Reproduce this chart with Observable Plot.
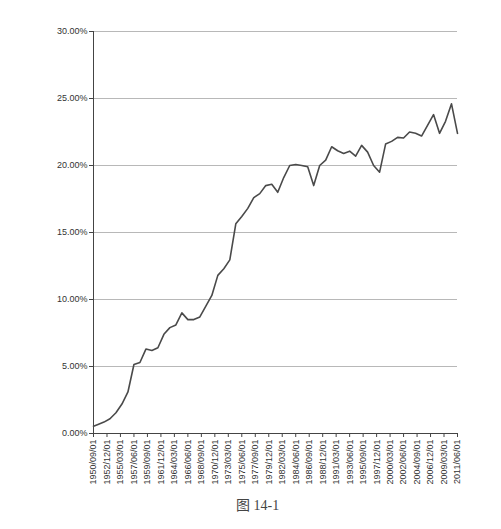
<!DOCTYPE html>
<html>
<head>
<meta charset="utf-8">
<script src="https://cdn.jsdelivr.net/npm/d3@7"></script>
<script src="https://cdn.jsdelivr.net/npm/@observablehq/plot@0.6"></script>
<style>
  body { margin: 0; background: #fff; }
  #chart { position: absolute; left: 0; top: 0; }
  #cap { position: absolute; left: 236px; top: 494px; font-family: "Liberation Serif", "Noto Sans CJK SC", serif; font-size: 14px; color: #444; white-space: nowrap; }
</style>
</head>
<body>
<div id="chart"></div>
<div id="cap">图 14-1</div>
<script>
// Observation dates (approx. yearly)
const dates = [
  "1950-09","1951-06","1952-06","1953-06","1954-06","1955-06","1956-06","1957-06","1958-06","1959-06",
  "1960-06","1961-06","1962-06","1963-06","1964-06","1965-06","1966-06","1967-06","1968-06","1969-06",
  "1970-06","1971-06","1972-06","1973-06","1974-06","1975-06","1976-06","1977-06","1978-06","1979-06",
  "1980-06","1981-06","1982-06","1983-06","1984-06","1985-06","1986-06","1987-06","1988-06","1989-06",
  "1990-06","1991-06","1992-06","1993-06","1994-06","1995-06","1996-06","1997-06","1998-06","1999-06",
  "2000-06","2001-06","2002-06","2003-06","2004-06","2005-06","2006-06","2007-06","2008-06","2009-06",
  "2010-06","2011-06"
];
// Share (%)
const values = [
  0.55, 0.68, 0.85, 1.1, 1.55, 2.2, 3.1, 5.15, 5.3, 6.3,
  6.2, 6.4, 7.4, 7.9, 8.1, 9.0, 8.5, 8.5, 8.7, 9.5,
  10.3, 11.8, 12.3, 12.96, 15.65, 16.2, 16.8, 17.6, 17.9, 18.5,
  18.6, 18.0, 19.1, 20.0, 20.07, 20.0, 19.9, 18.5, 20.0, 20.4,
  21.4, 21.1, 20.9, 21.07, 20.7, 21.5, 21.0, 20.0, 19.5, 21.6,
  21.8, 22.1, 22.05, 22.5, 22.4, 22.2, 23.0, 23.8, 22.4, 23.3,
  24.6, 22.4
];
// Category tick labels on the x axis
const xTickLabels = [
  "1950/09/01","1952/12/01","1955/03/01","1957/06/01","1959/09/01","1961/12/01","1964/03/01",
  "1966/06/01","1968/09/01","1970/12/01","1973/03/01","1975/06/01","1977/09/01","1979/12/01",
  "1982/03/01","1984/06/01","1986/09/01","1988/12/01","1991/03/01","1993/06/01","1995/09/01",
  "1997/12/01","2000/03/01","2002/06/01","2004/09/01","2006/12/01","2009/03/01","2011/06/01"
];
const yTicks = [0, 0.05, 0.10, 0.15, 0.20, 0.25, 0.30];

const parseTick = d3.utcParse("%Y/%m/%d");
const parseDate = d3.utcParse("%Y-%m");
const data = dates.map((d, i) => ({date: parseDate(d), value: values[i] / 100}));
const xTicks = xTickLabels.map(parseTick);

const chart = Plot.plot({
  width: 501,
  height: 495,
  marginTop: 31,
  marginBottom: 62,
  marginLeft: 93,
  marginRight: 44,
  style: { fontFamily: "Liberation Sans, Arial, sans-serif", fontSize: "9px", color: "#333", background: "#fff" },
  x: { type: "utc", domain: [xTicks[0], xTicks[xTicks.length - 1]] },
  y: { domain: [0, 0.30] },
  marks: [
    Plot.gridY(yTicks.slice(1), { stroke: "#b8b8b8", strokeOpacity: 1, strokeWidth: 1 }),
    Plot.axisY({ ticks: yTicks, tickFormat: d3.format(".2%"), tickSize: 4, tickPadding: 2, label: null, fill: "#333", stroke: "#444" }),
    Plot.axisX({ ticks: xTicks, tickFormat: d3.utcFormat("%Y/%m/%d"), tickRotate: -90, tickSize: 4, tickPadding: 2, label: null, fill: "#333", stroke: "#444" }),
    Plot.ruleY([0], { stroke: "#444", strokeWidth: 1 }),
    Plot.ruleX([xTicks[0]], { stroke: "#444", strokeWidth: 1 }),
    Plot.line(data, { x: "date", y: "value", stroke: "#4a4a4a", strokeWidth: 1.6, curve: "linear" })
  ]
});
document.getElementById("chart").appendChild(chart);
</script>
</body>
</html>
